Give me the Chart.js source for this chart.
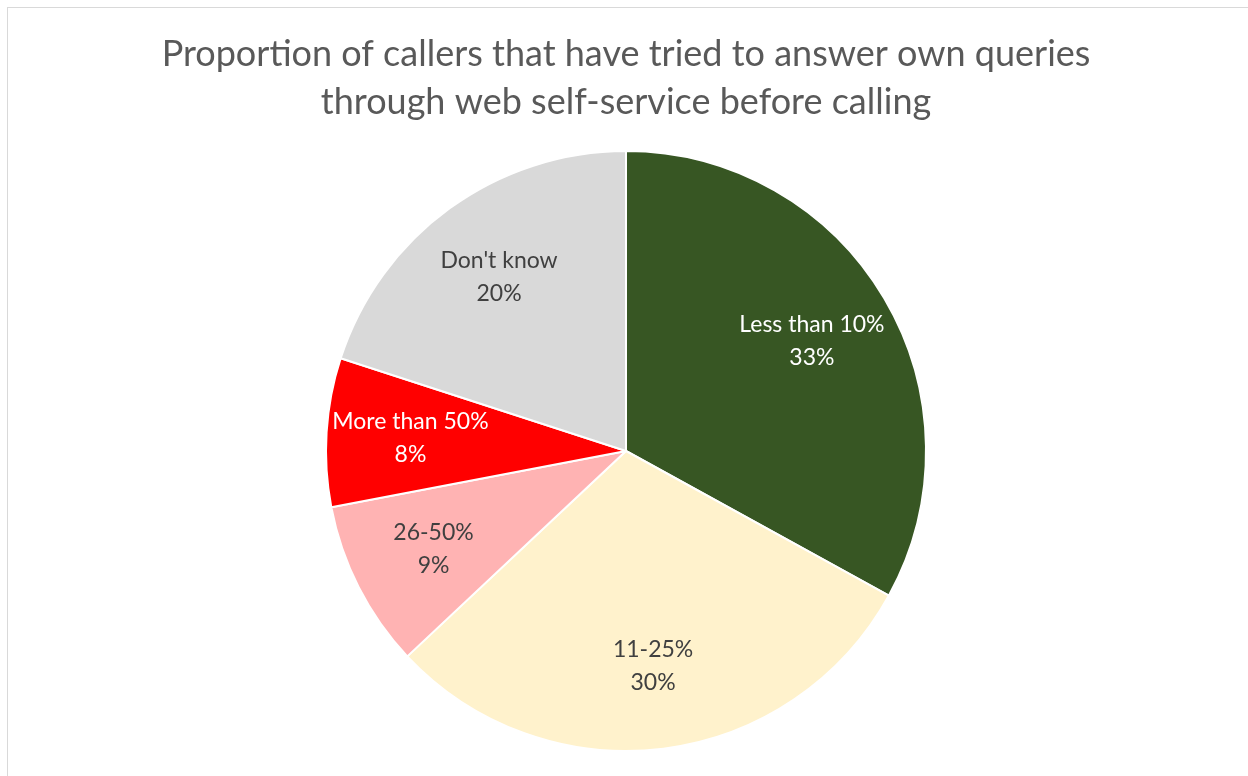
<!DOCTYPE html>
<html>
<head>
<meta charset="utf-8">
<script src="https://cdn.jsdelivr.net/npm/chart.js@4.4.0/dist/chart.umd.min.js"></script>
<style>
  html, body { margin: 0; padding: 0; background: #fff; overflow: hidden; }
  #wrap { position: relative; width: 1248px; height: 776px; }
  #frame { position: absolute; left: 7px; top: 7px; width: 1300px; height: 900px; border: 1px solid #d9d9d9; box-sizing: border-box; }
  canvas { position: absolute; left: 0; top: 0; }
</style>
</head>
<body>
<div id="wrap">
  <div id="frame"></div>
  <canvas id="myChart" width="1248" height="776"></canvas>
</div>
<script>
const categories = ['Less than 10%', '11-25%', '26-50%', 'More than 50%', "Don't know"];
const shares = [33, 30, 9, 8, 20];
const sliceColors = ['#375623', '#FFF2CC', '#FFB3B3', '#FF0000', '#D9D9D9'];
const labelColors = ['#ffffff', '#404040', '#404040', '#ffffff', '#404040'];

// draws "category / value%" inside each slice
const sliceLabels = {
  id: 'sliceLabels',
  afterDatasetsDraw(chart) {
    const ctx = chart.ctx;
    const meta = chart.getDatasetMeta(0);
    ctx.save();
    ctx.font = '23px Lato';
    ctx.textAlign = 'center';
    ctx.textBaseline = 'middle';
    meta.data.forEach((arc, i) => {
      const p = arc.getProps(['x', 'y', 'startAngle', 'endAngle', 'outerRadius'], true);
      const mid = (p.startAngle + p.endAngle) / 2;
      const r = p.outerRadius * 0.72;
      const x = p.x + Math.cos(mid) * r;
      const y = p.y + Math.sin(mid) * r;
      ctx.fillStyle = labelColors[i];
      ctx.fillText(categories[i], x, y - 16);
      ctx.fillText(shares[i] + '%', x, y + 17);
    });
    ctx.restore();
  }
};

const ctx = document.getElementById('myChart');

const myChart = new Chart(ctx, {
  type: 'pie',
  data: {
    labels: categories,
    datasets: [{
      data: shares,
      backgroundColor: sliceColors,
      borderColor: '#ffffff',
      borderWidth: 2
    }]
  },
  options: {
    responsive: false,
    animation: false,
    layout: {
      padding: { left: 4, right: 0, top: 0, bottom: 24 }
    },
    plugins: {
      legend: { display: false },
      tooltip: { enabled: false },
      title: {
        display: true,
        text: ['Proportion of callers that have tried to answer own queries', 'through web self-service before calling'],
        color: '#595959',
        font: { family: 'Lato', size: 36, weight: 'normal', lineHeight: 1.3333 },
        padding: { top: 30, bottom: 24 }
      }
    }
  },
  plugins: [sliceLabels]
});
</script>
</body>
</html>
